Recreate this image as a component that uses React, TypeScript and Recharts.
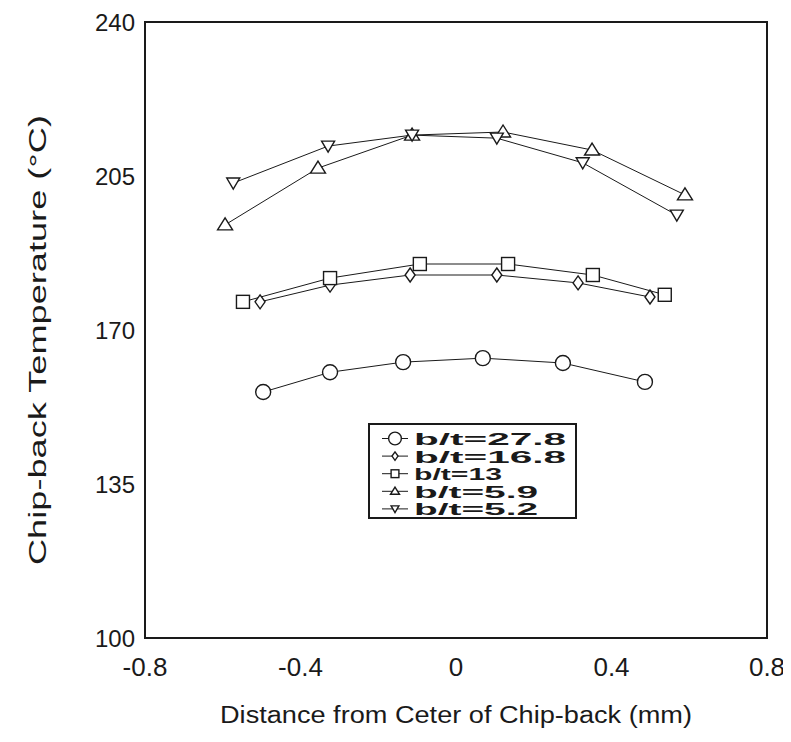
import { Label, Legend, Line, LineChart, ReferenceArea, XAxis, YAxis } from "recharts";

// distance from chip-back centre (mm) and measured temperature (°C), one pair per b/t ratio
const dist278 = [-0.496, -0.324, -0.136, 0.069, 0.275, 0.486];
const temp278 = [155.9, 160.4, 162.7, 163.6, 162.5, 158.2];

const dist168 = [-0.504, -0.324, -0.118, 0.105, 0.314, 0.499];
const temp168 = [176.4, 180.2, 182.5, 182.5, 180.7, 177.5];

const dist13 = [-0.548, -0.324, -0.093, 0.134, 0.352, 0.537];
const temp13 = [176.4, 181.8, 185.0, 185.0, 182.5, 178.0];

const dist59 = [-0.594, -0.355, -0.113, 0.121, 0.35, 0.589];
const temp59 = [193.9, 206.8, 214.3, 215.0, 210.9, 200.7];

const dist52 = [-0.573, -0.329, -0.113, 0.105, 0.326, 0.568];
const temp52 = [203.4, 211.8, 214.3, 213.6, 208.0, 196.1];

const xTicks = [-0.8, -0.4, 0, 0.4, 0.8];
const yTicks = [100, 135, 170, 205, 240];

const legendLabels = ["b/t=27.8", "b/t=16.8", "b/t=13", "b/t=5.9", "b/t=5.2"];

type Kind = "circle" | "diamond" | "square" | "up" | "down";

const toPoints = (xs: number[], ys: number[]) =>
  xs.map((x, i) => ({ x, y: ys[i] }));

const series: { key: string; kind: Kind; data: { x: number; y: number }[] }[] = [
  { key: legendLabels[0], kind: "circle", data: toPoints(dist278, temp278) },
  { key: legendLabels[1], kind: "diamond", data: toPoints(dist168, temp168) },
  { key: legendLabels[2], kind: "square", data: toPoints(dist13, temp13) },
  { key: legendLabels[3], kind: "up", data: toPoints(dist59, temp59) },
  { key: legendLabels[4], kind: "down", data: toPoints(dist52, temp52) },
];

const INK = "#1a1a1a";
const FONT = '"Liberation Sans", Arial, Helvetica, sans-serif';

// legend text is set wide in the printed figure
const legendTextWidth: Record<Kind, number> = {
  circle: 152,
  diamond: 152,
  square: 88,
  up: 124,
  down: 124,
};

function Marker({ kind, cx, cy, s = 1 }: { kind: Kind; cx: number; cy: number; s?: number }) {
  const common = { fill: "#fff", stroke: INK, strokeWidth: 1.4 };
  switch (kind) {
    case "circle":
      return <circle cx={cx} cy={cy} r={7.5 * s} {...common} />;
    case "square":
      return <rect x={cx - 6.5 * s} y={cy - 6.5 * s} width={13 * s} height={13 * s} {...common} />;
    case "diamond":
      return (
        <polygon
          points={`${cx},${cy - 7 * s} ${cx + 5 * s},${cy} ${cx},${cy + 7 * s} ${cx - 5 * s},${cy}`}
          {...common}
        />
      );
    case "up":
      return (
        <polygon
          points={`${cx},${cy - 7 * s} ${cx + 7.5 * s},${cy + 5 * s} ${cx - 7.5 * s},${cy + 5 * s}`}
          {...common}
        />
      );
    default:
      return (
        <polygon
          points={`${cx - 6.5 * s},${cy - 5 * s} ${cx + 6.5 * s},${cy - 5 * s} ${cx},${cy + 6 * s}`}
          {...common}
        />
      );
  }
}

function dotFor(kind: Kind) {
  return (props: { cx?: number; cy?: number; index?: number }) => (
    <g key={`${kind}-${props.index}`}>
      <Marker kind={kind} cx={props.cx ?? 0} cy={props.cy ?? 0} />
    </g>
  );
}

function LegendBox() {
  return (
    <svg width={210} height={96} style={{ display: "block" }}>
      <rect x={1} y={1} width={207} height={94} fill="#fff" stroke={INK} strokeWidth={2} />
      {series.map((s, i) => {
        const cy = 15.5 + i * 17.6;
        return (
          <g key={s.key}>
            <line x1={14} x2={40} y1={cy} y2={cy} stroke={INK} strokeWidth={1} />
            <Marker kind={s.kind} cx={27} cy={cy} s={s.kind === "circle" ? 0.85 : 0.6} />
            <text
              x={46}
              y={cy + 1}
              dominantBaseline="central"
              fontFamily={FONT}
              fontWeight="bold"
              fontSize={16}
              fill={INK}
              textLength={legendTextWidth[s.kind]}
              lengthAdjust="spacingAndGlyphs"
            >
              {s.key}
            </text>
          </g>
        );
      })}
    </svg>
  );
}

const yTickStyle = { fontSize: 24, fill: INK, fontFamily: FONT };
const xTickStyle = { fontSize: 26, fill: INK, fontFamily: FONT };

export default function App() {
  return (
    <LineChart width={783} height={734} margin={{ top: 14, right: 24, bottom: 0, left: 0 }}>
      <XAxis
        type="number"
        dataKey="x"
        domain={[-0.8, 0.8]}
        ticks={xTicks}
        allowDataOverflow
        height={104}
        tick={xTickStyle}
        tickLine={false}
        tickMargin={14}
        axisLine={{ stroke: INK, strokeWidth: 2 }}
        tickFormatter={(v: number) => (v === 0 ? "0" : String(v))}
      >
        <Label
          content={({ viewBox }: any) => (
            <text
              x={viewBox.x + viewBox.width / 2}
              y={viewBox.y + 77}
              textAnchor="middle"
              dominantBaseline="central"
              fontFamily={FONT}
              fontSize={23}
              fill={INK}
              textLength={472}
              lengthAdjust="spacingAndGlyphs"
            >
              Distance from Ceter of Chip-back (mm)
            </text>
          )}
        />
      </XAxis>
      <YAxis
        type="number"
        dataKey="y"
        domain={[100, 240]}
        ticks={yTicks}
        width={137}
        tick={yTickStyle}
        tickLine={false}
        tickMargin={4}
        axisLine={{ stroke: INK, strokeWidth: 2 }}
      >
        <Label
          content={({ viewBox }: any) => (
            <text
              x={30}
              y={viewBox.y + viewBox.height / 2 + 10}
              transform={`rotate(-90, 30, ${viewBox.y + viewBox.height / 2 + 10})`}
              textAnchor="middle"
              dominantBaseline="central"
              fontFamily={FONT}
              fontSize={23}
              fill={INK}
              textLength={450}
              lengthAdjust="spacingAndGlyphs"
            >
              Chip-back Temperature (°C)
            </text>
          )}
        />
      </YAxis>
      {/* closed frame around the plot */}
      <ReferenceArea
        x1={-0.8}
        x2={0.8}
        y1={100}
        y2={240}
        fill="none"
        fillOpacity={0}
        stroke={INK}
        strokeWidth={2}
        ifOverflow="visible"
      />
      <Legend
        layout="horizontal"
        verticalAlign="middle"
        align="center"
        content={() => <LegendBox />}
        wrapperStyle={{ position: "absolute", left: 360, top: 415, width: 210, height: 96 }}
      />
      {series.map((s) => (
        <Line
          key={s.key}
          name={s.key}
          data={s.data}
          dataKey="y"
          type="linear"
          stroke={INK}
          strokeWidth={1}
          dot={dotFor(s.kind)}
          activeDot={false}
          isAnimationActive={false}
        />
      ))}
    </LineChart>
  );
}
